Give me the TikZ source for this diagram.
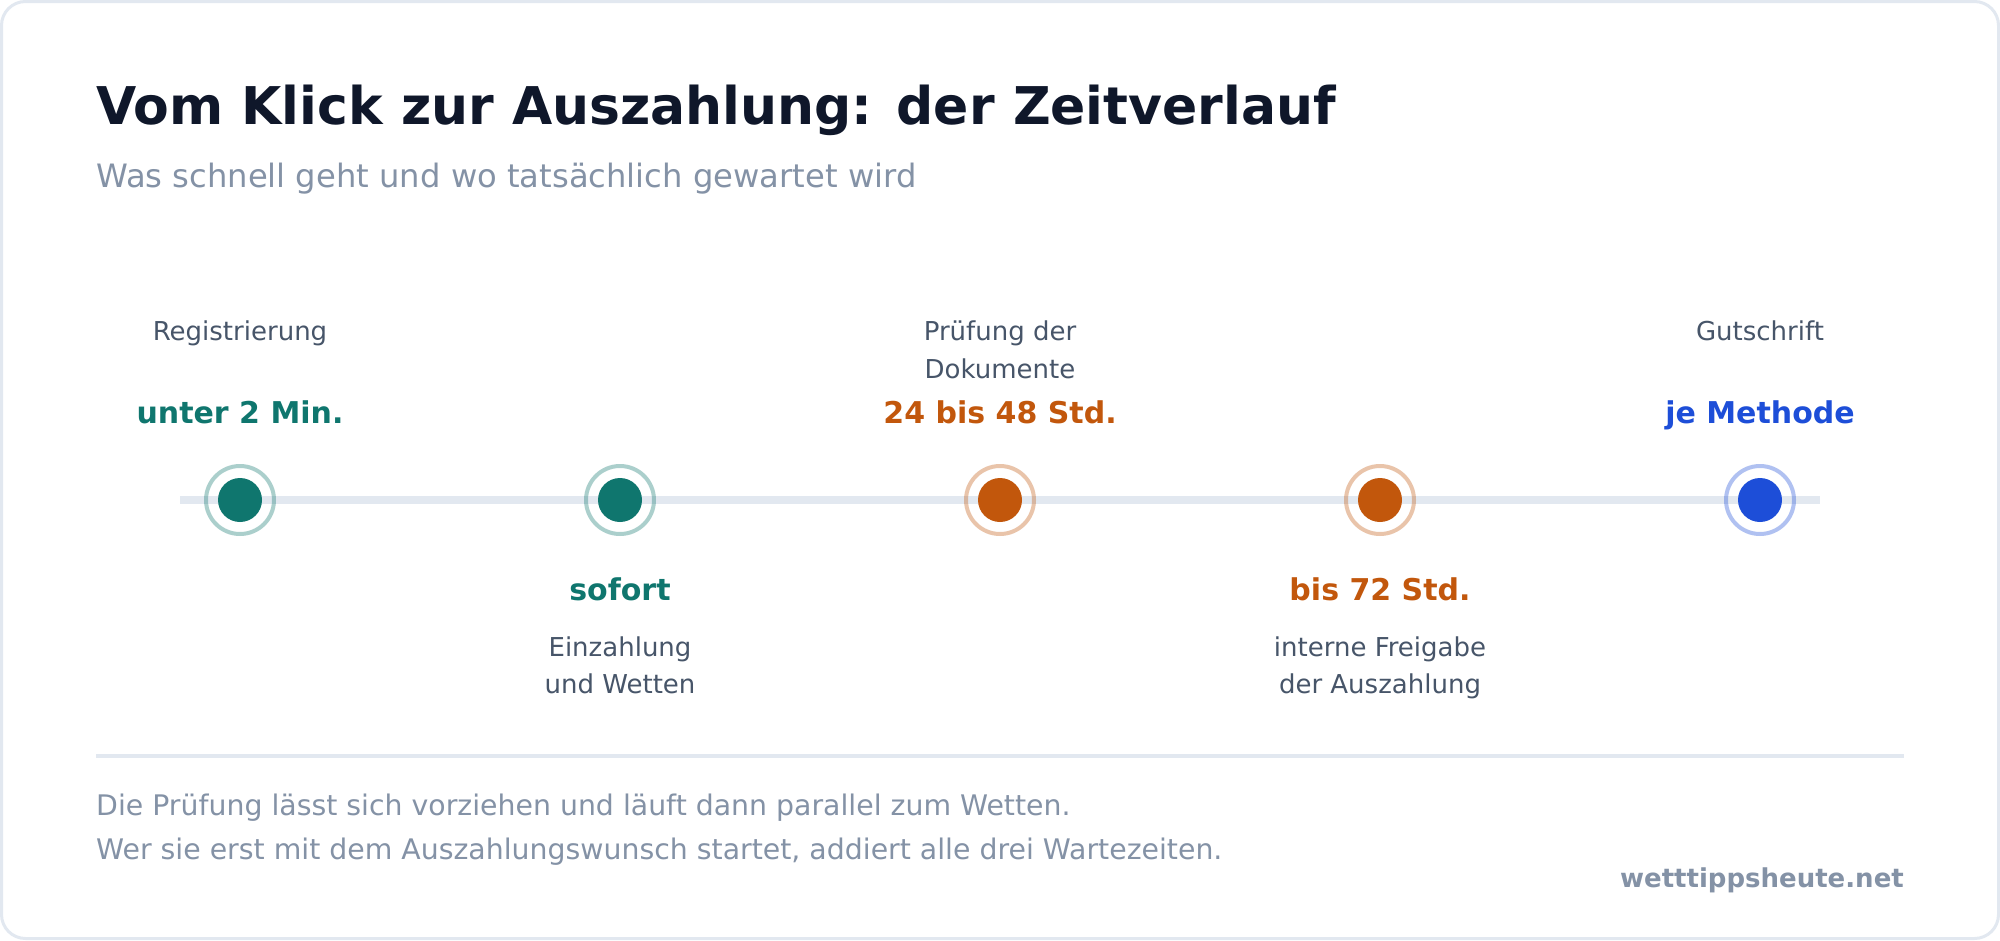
\documentclass[tikz,border=0pt]{standalone}
\usepackage{fontspec}
\setmainfont{DejaVu Sans}
\definecolor{frame}{HTML}{E2E8F0}
\definecolor{titlec}{HTML}{0F172A}
\definecolor{subc}{HTML}{8492A6}
\definecolor{labelc}{HTML}{475569}
\definecolor{tealc}{HTML}{0F766E}
\definecolor{orangec}{HTML}{C2570C}
\definecolor{bluec}{HTML}{1D4ED8}
\tikzset{
  titletext/.style={anchor=base west, inner sep=0pt, text=titlec, font=\fontsize{52}{60}\selectfont\bfseries},
  subtext/.style={anchor=base west, inner sep=0pt, text=subc, font=\fontsize{32.2}{38}\selectfont},
  lbl/.style={anchor=base, inner sep=0pt, text=labelc, font=\fontsize{26}{31}\selectfont},
  val/.style={anchor=base, inner sep=0pt, text=#1, font=\fontsize{30}{36}\selectfont\bfseries},
  dotnode/.style={circle, fill=#1, minimum size=44pt, inner sep=0pt, draw=none},
  ringline/.style={draw=#1, draw opacity=0.35, line width=4pt},
  foot/.style={anchor=base west, inner sep=0pt, text=subc, font=\fontsize{28.35}{34}\selectfont},
  watermark/.style={anchor=base east, inner sep=0pt, text=subc, font=\fontsize{26}{31}\selectfont\bfseries},
}
\begin{document}
\begin{tikzpicture}[x=1pt, y=-1pt]
\useasboundingbox (0,0) rectangle (2000,940);
\fill[white] (0,0) rectangle (2000,940);
\draw[frame, line width=3pt, rounded corners=24pt] (1.5,1.5) rectangle (1998.5,938.5);

\node[titletext] (title) at (96,124) {Vom Klick zur Auszahlung: der Zeitverlauf};
\node[subtext] (sub) at (96,187) {Was schnell geht und wo tatsächlich gewartet wird};

% timeline
\coordinate (ls) at (180,500);
\coordinate (le) at (1820,500);
\draw[frame, line width=8pt] (ls) -- (le);

\node[dotnode=tealc] (d1) at (240,500) {};
\node[dotnode=tealc] (d2) at (620,500) {};
\node[dotnode=orangec] (d3) at (1000,500) {};
\node[dotnode=orangec] (d4) at (1380,500) {};
\node[dotnode=bluec] (d5) at (1760,500) {};
\draw[ringline=tealc] (d1.center) circle (34);
\draw[ringline=tealc] (d2.center) circle (34);
\draw[ringline=orangec] (d3.center) circle (34);
\draw[ringline=orangec] (d4.center) circle (34);
\draw[ringline=bluec] (d5.center) circle (34);

% labels above
\node[lbl] (l1) at (240,340) {Registrierung};
\node[val=tealc] (v1) at (240,423) {unter 2 Min.};
\node[lbl] (l3a) at (1000,340) {Prüfung der};
\node[lbl] (l3b) at (1000,378) {Dokumente};
\node[val=orangec] (v3) at (1000,423) {24 bis 48 Std.};
\node[lbl] (l5) at (1760,340) {Gutschrift};
\node[val=bluec] (v5) at (1760,423) {je Methode};

% labels below
\node[val=tealc] (v2) at (620,600) {sofort};
\node[lbl] (l2a) at (620,656) {Einzahlung};
\node[lbl] (l2b) at (620,693) {und Wetten};
\node[val=orangec] (v4) at (1380,600) {bis 72 Std.};
\node[lbl] (l4a) at (1380,656) {interne Freigabe};
\node[lbl] (l4b) at (1380,693) {der Auszahlung};

% separator and footer
\coordinate (sa) at (96,756);
\coordinate (sb) at (1904,756);
\draw[frame, line width=4pt] (sa) -- (sb);
\node[foot] (f1) at (96,815) {Die Prüfung lässt sich vorziehen und läuft dann parallel zum Wetten.};
\node[foot] (f2) at (96,859) {Wer sie erst mit dem Auszahlungswunsch startet, addiert alle drei Wartezeiten.};
\node[watermark] (wm) at (1904,887) {wetttippsheute.net};
\end{tikzpicture}
\end{document}
